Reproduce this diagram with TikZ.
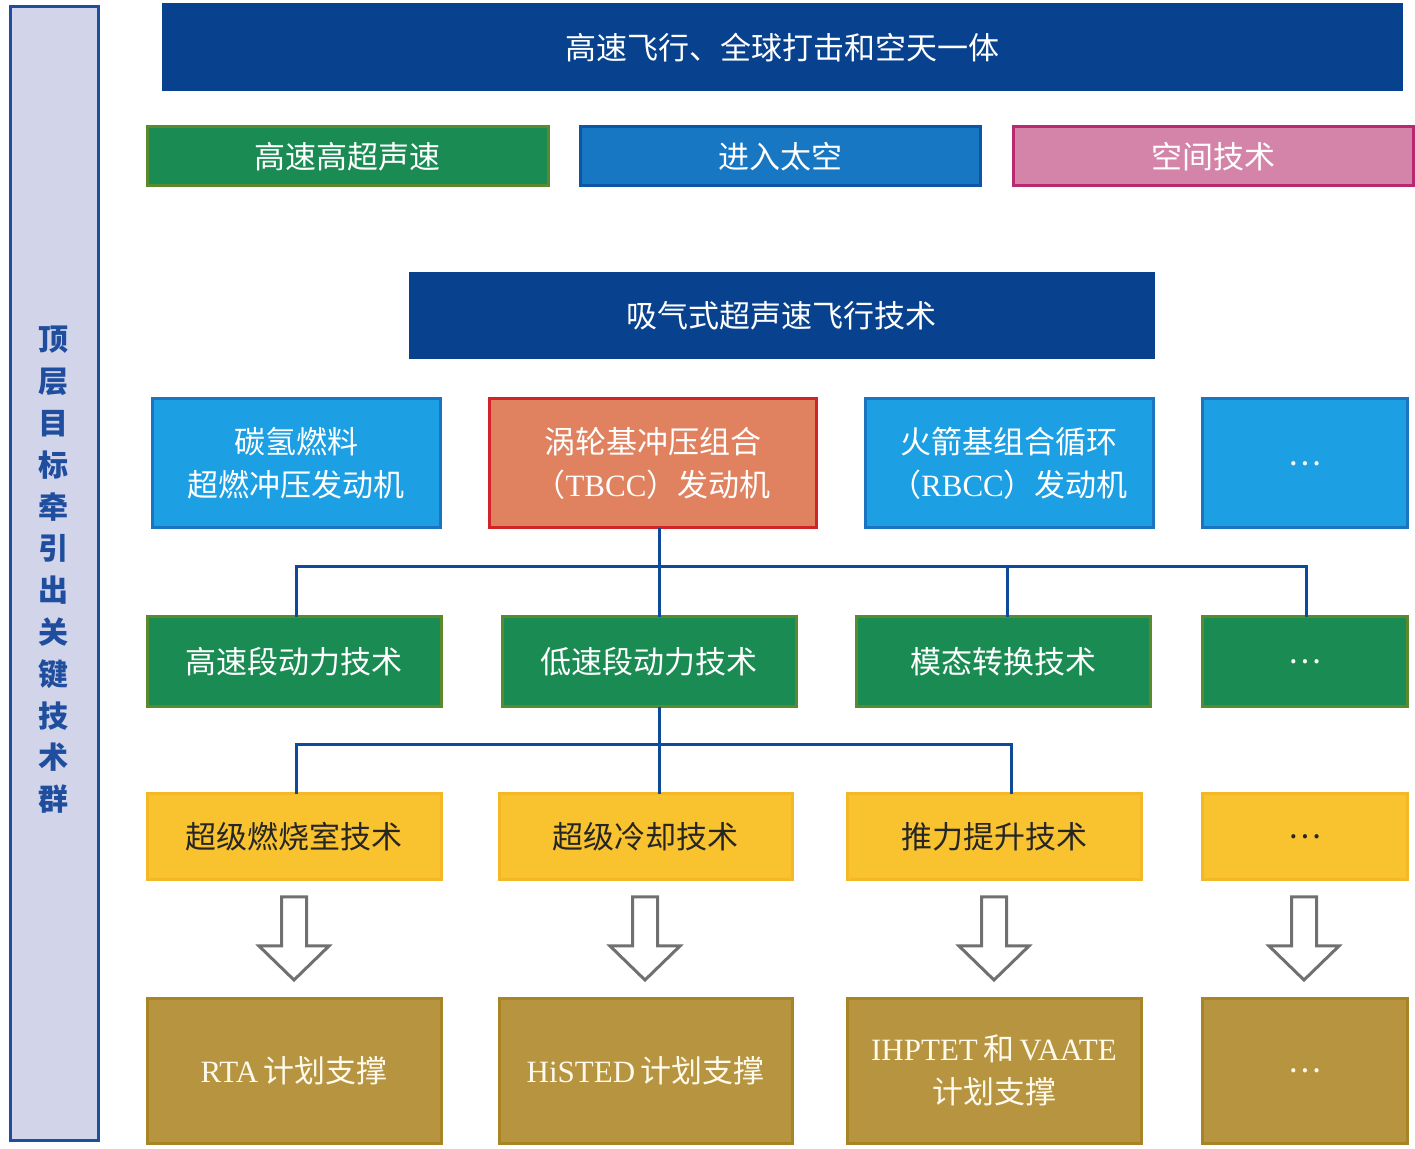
\documentclass[tikz,border=0pt]{standalone}
\usepackage{fontspec}
\setmainfont{Noto Sans CJK SC}
\newfontfamily\lat{Liberation Serif}
\definecolor{barfill}{HTML}{D2D4EA}
\definecolor{barline}{HTML}{1F4E9E}
\definecolor{navy}{HTML}{08428F}
\definecolor{grn}{HTML}{1A8C53}
\definecolor{grnline}{HTML}{5B8A2E}
\definecolor{mblue}{HTML}{1877C3}
\definecolor{mblueline}{HTML}{0D55A5}
\definecolor{pink}{HTML}{D584A9}
\definecolor{pinkline}{HTML}{B82970}
\definecolor{lblue}{HTML}{1C9FE3}
\definecolor{lblueline}{HTML}{1B74C0}
\definecolor{orng}{HTML}{E0825F}
\definecolor{orngline}{HTML}{D2232A}
\definecolor{yel}{HTML}{F9C22F}
\definecolor{yelline}{HTML}{F4B827}
\definecolor{gold}{HTML}{B69440}
\definecolor{goldline}{HTML}{A88425}
\definecolor{connc}{HTML}{0D4A9A}
\definecolor{arrc}{HTML}{707070}
\newcommand\fs{\fontsize{15.5}{21.5}\selectfont}
\newcommand\bx[7]{\node[#6, minimum width={(#4-#2)*0.5pt}, minimum height={(#5-#3)*0.5pt}] (#1) at ({(#2+#4)/2},{(#3+#5)/2}) {#7};}
\newcommand\harrow[1]{\draw[hollowarr] (#1-12.5,897) -- (#1+12.5,897) -- (#1+12.5,946) -- (#1+35,946) -- (#1,980) -- (#1-35,946) -- (#1-12.5,946) -- cycle;}
\tikzset{
  base/.style={rectangle, inner sep=0pt, outer sep=0pt, line width=1.5pt, text=white, font=\fs, align=center},
  navybox/.style={base, fill=navy, draw=navy},
  grnbox/.style={base, fill=grn, draw=grnline},
  mbluebox/.style={base, fill=mblue, draw=mblueline},
  pinkbox/.style={base, fill=pink, draw=pinkline},
  lbluebox/.style={base, fill=lblue, draw=lblueline},
  orngbox/.style={base, fill=orng, draw=orngline},
  yelbox/.style={base, fill=yel, draw=yelline, text=black!85},
  goldbox/.style={base, fill=gold, draw=goldline, text={rgb,255:red,255;green,250;blue,235}},
  barbox/.style={base, fill=barfill, draw=barline, text=barline, font={\fontsize{15}{20.9}\selectfont\bfseries}},
  conn/.style={draw=connc, line width=1.5pt},
  hollowarr/.style={draw=arrc, line width=1.5pt, fill=white, line join=miter},
}
\begin{document}
\begin{tikzpicture}[x=0.5pt,y=-0.5pt]
\useasboundingbox (0,0) rectangle (1415,1149);
% left bar
\bx{bar}{10}{7}{98}{1140}{barbox}{}
\node[text=barline, font={\fontsize{15}{20.9}\selectfont\bfseries}, align=center, inner sep=0pt] (bartext) at (54,570) {顶\\层\\目\\标\\牵\\引\\出\\关\\键\\技\\术\\群};
% top
\bx{top}{163}{5}{1401}{90}{navybox}{高速飞行、全球打击和空天一体}
\bx{g1}{147}{127}{548}{186}{grnbox}{高速高超声速}
\bx{g2}{580}{127}{980}{186}{mbluebox}{进入太空}
\bx{g3}{1013}{127}{1413}{186}{pinkbox}{空间技术}
\bx{air}{410}{274}{1153}{358}{navybox}{吸气式超声速飞行技术}
% row 4
\bx{e1}{152}{399}{440}{528}{lbluebox}{碳氢燃料\\超燃冲压发动机}
\bx{e2}{489}{399}{816}{528}{orngbox}{涡轮基冲压组合\\（{\lat TBCC}）发动机}
\bx{e3}{865}{399}{1153}{528}{lbluebox}{火箭基组合循环\\（{\lat RBCC}）发动机}
\bx{e4}{1202}{399}{1407}{528}{lbluebox}{…}
% row 5
\bx{t1}{147}{617}{441}{707}{grnbox}{高速段动力技术}
\bx{t2}{502}{617}{796}{707}{grnbox}{低速段动力技术}
\bx{t3}{856}{617}{1150}{707}{grnbox}{模态转换技术}
\bx{t4}{1202}{617}{1407}{707}{grnbox}{…}
% row 6
\bx{s1}{147}{794}{441}{880}{yelbox}{超级燃烧室技术}
\bx{s2}{499}{794}{792}{880}{yelbox}{超级冷却技术}
\bx{s3}{847}{794}{1141}{880}{yelbox}{推力提升技术}
\bx{s4}{1202}{794}{1407}{880}{yelbox}{…}
% row 7
\bx{p1}{147}{998}{441}{1143}{goldbox}{{\lat RTA}\,计划支撑}
\bx{p2}{499}{998}{792}{1143}{goldbox}{{\lat HiSTED}\,计划支撑}
\bx{p3}{847}{998}{1141}{1143}{goldbox}{{\lat IHPTET}\,和\,{\lat VAATE}\\计划支撑}
\bx{p4}{1202}{998}{1407}{1143}{goldbox}{…}
% connectors level 1
\coordinate (j1) at (659,567);
\coordinate (h1l) at (296,567);
\coordinate (h1c) at (1007,567);
\coordinate (h1r) at (1306,567);
\draw[conn] (e2.south -| j1) -- (t2.north -| j1);
\draw[conn] (t1.north -| h1l) |- (h1r) -- (t4.north -| h1r);
\draw[conn] (h1c) -- (t3.north -| h1c);
% connectors level 2
\coordinate (j2) at (659,745);
\coordinate (h2l) at (296,745);
\coordinate (h2r) at (1011,745);
\draw[conn] (t2.south -| j2) -- (s2.north -| j2);
\draw[conn] (s1.north -| h2l) |- (h2r) -- (s3.north -| h2r);
% hollow arrows
\harrow{294}
\harrow{645}
\harrow{994}
\harrow{1304}
\end{tikzpicture}
\end{document}
